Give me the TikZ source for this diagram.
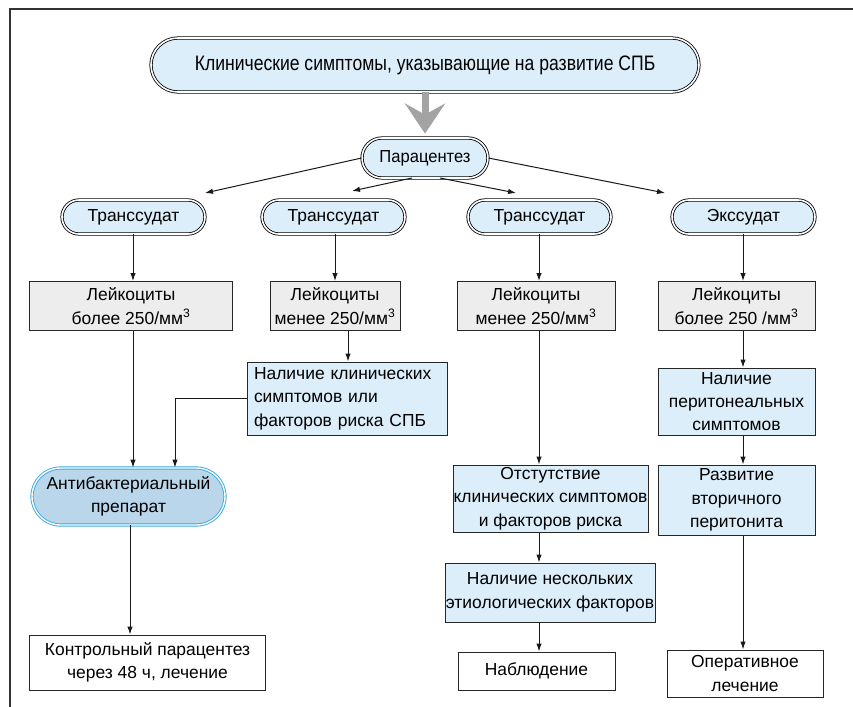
\documentclass[tikz,border=0pt]{standalone}
\usepackage{fontspec}
\setmainfont{Liberation Sans}
\usetikzlibrary{shapes.misc,arrows.meta,calc}
\definecolor{lblue}{HTML}{DCEEFA}
\definecolor{lgray}{HTML}{EDEDED}
\definecolor{abfill}{HTML}{B9D6EA}
\definecolor{abline}{HTML}{3AA8E0}
\definecolor{framec}{HTML}{333333}
\definecolor{bigarrow}{HTML}{A3A3A3}
\tikzset{
  base/.style={inner sep=0pt, align=center, font=\fontsize{17.5}{23.5}\selectfont},
  stad/.style={base, rounded rectangle, draw=black, line width=0.8bp, double=white, double distance=1.6bp, fill=lblue},
  abstad/.style={base, rounded rectangle, draw=abline, line width=0.9bp, double=white, double distance=1.4bp, fill=abfill},
  gbox/.style={base, rectangle, draw=black!85, line width=1bp, fill=lgray},
  bbox/.style={base, rectangle, draw=black!85, line width=1bp, fill=lblue},
  wbox/.style={base, rectangle, draw=black!85, line width=1bp, fill=white},
  arr/.style={draw=black!90, line width=1bp, -{Latex[length=8bp,width=5.5bp]}},
}
\begin{document}
\begin{tikzpicture}[x=1bp,y=-1bp]
\useasboundingbox (0,0) rectangle (853,707);
\draw[framec, line width=1.5bp] (10,707) -- (10,9) -- (853,9);

\node[stad, minimum width=548bp, minimum height=54bp] (top) at (425,65)
  {\fontsize{21}{24}\selectfont\scalebox{0.84}[1]{Клинические симптомы, указывающие на развитие СПБ}};
\node[stad, minimum width=126bp, minimum height=40bp] (par) at (425,158) {\scalebox{0.95}[1]{Парацентез}};

\draw[bigarrow, line width=7bp, -{Stealth[length=30bp,width=40bp,inset=11bp]}, shorten >=4bp] (top.south) -- (par.north);

\node[stad, minimum width=143bp, minimum height=34bp] (t1) at (133.5,217) {Транссудат};
\node[stad, minimum width=143bp, minimum height=34bp] (t2) at (333.5,217) {Транссудат};
\node[stad, minimum width=143bp, minimum height=34bp] (t3) at (539.5,217) {Транссудат};
\node[stad, minimum width=143bp, minimum height=34bp] (ex) at (743.5,217) {Экссудат};

\coordinate (e1) at (205,193);
\coordinate (e2) at (352,191);
\coordinate (e3) at (516,193);
\coordinate (e4) at (665,193);
\coordinate (s2) at (412,178);
\coordinate (s3) at (440,178);
\draw[arr] (par.west) -- (e1);
\draw[arr] (s2) -- (e2);
\draw[arr] (s3) -- (e3);
\draw[arr] (par.east) -- (e4);

\node[gbox, minimum width=202bp, minimum height=49bp] (b1) at (131,306) {Лейкоциты\\более 250/мм\textsuperscript{3}};
\node[gbox, minimum width=130bp, minimum height=49bp] (b2) at (335,306) {Лейкоциты\\менее 250/мм\textsuperscript{3}};
\node[gbox, minimum width=158bp, minimum height=49bp] (b3) at (536,306) {Лейкоциты\\менее 250/мм\textsuperscript{3}};
\node[gbox, minimum width=157bp, minimum height=49bp] (b4) at (736.5,306) {Лейкоциты\\более 250 /мм\textsuperscript{3}};

\node[bbox, minimum width=200bp, minimum height=73bp, align=left, text width=186bp] (nk) at (347,398.5) {Наличие клинических\\симптомов или\\факторов риска СПБ};
\node[bbox, minimum width=157bp, minimum height=67bp] (np) at (736.5,401.5) {Наличие\\перитонеальных\\симптомов};

\node[abstad, minimum width=193bp, minimum height=57bp] (ab) at (128.5,496.5) {Антибактериальный\\препарат};
\node[bbox, minimum width=195bp, minimum height=67bp] (ot) at (550.5,498.5) {Отстутствие\\клинических симптомов\\и факторов риска};
\node[bbox, minimum width=157bp, minimum height=70bp] (rv) at (736.5,500) {Развитие\\вторичного\\перитонита};
\node[bbox, minimum width=210bp, minimum height=59bp] (nn) at (550,592.5) {Наличие нескольких\\этиологических факторов};

\node[wbox, minimum width=235bp, minimum height=55bp] (kp) at (147.5,662.5) {Контрольный парацентез\\через 48 ч, лечение};
\node[wbox, minimum width=157bp, minimum height=38bp] (nb) at (536.5,671) {Наблюдение};
\node[wbox, minimum width=156bp, minimum height=47bp] (op) at (745,673.5) {Оперативное\\лечение};

% column 1
\coordinate (c1) at (133,0);
\draw[arr] (t1.south -| c1) -- (b1.north -| c1);
\draw[arr] (b1.south -| c1) -- (ab.north -| c1);
\coordinate (c1b) at (130,0);
\draw[arr] (ab.south -| c1b) -- (kp.north -| c1b);
% column 2
\coordinate (c2) at (335,0);
\draw[arr] (t2.south -| c2) -- (b2.north -| c2);
\coordinate (c2b) at (348,0);
\draw[arr] (b2.south -| c2b) -- (nk.north -| c2b);
\coordinate (c2c) at (175,0);
\draw[arr] (nk.west) -| (ab.north -| c2c);
% column 3
\coordinate (c3) at (539,0);
\draw[arr] (t3.south -| c3) -- (b3.north -| c3);
\draw[arr] (b3.south -| c3) -- (ot.north -| c3);
\draw[arr] (ot.south -| c3) -- (nn.north -| c3);
\draw[arr] (nn.south -| c3) -- (nb.north -| c3);
% column 4
\coordinate (c4) at (743,0);
\draw[arr] (ex.south -| c4) -- (b4.north -| c4);
\draw[arr] (b4.south -| c4) -- (np.north -| c4);
\draw[arr] (np.south -| c4) -- (rv.north -| c4);
\draw[arr] (rv.south -| c4) -- (op.north -| c4);
\end{tikzpicture}
\end{document}
